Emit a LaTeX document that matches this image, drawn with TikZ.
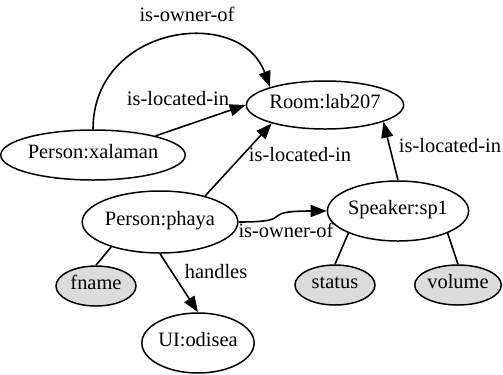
\documentclass[tikz,border=0pt]{standalone}
\usepackage{fontspec}
\setmainfont{Liberation Serif}
\newfontfamily\graphfont{Liberation Serif}
\usetikzlibrary{shapes.geometric,arrows.meta}
\definecolor{attrgray}{RGB}{220,220,220}
\tikzset{
  ent/.style={draw, ellipse, line width=1.5pt, inner sep=0pt, fill=white,
    font=\graphfont\fontsize{20.5}{24}\selectfont, text height=0.66em, text depth=0pt},
  attr/.style={ent, fill=attrgray},
  lbl/.style={font=\graphfont\fontsize{20.5}{24}\selectfont, inner sep=0pt, text height=0.68em, text depth=0pt},
  rel/.style={line width=1.6pt, -{Triangle[length=16pt,width=12pt]}},
  link/.style={line width=1.6pt}
}
\begin{document}
\begin{tikzpicture}[x=1bp,y=-1bp]
\useasboundingbox (0,0) rectangle (503,374);
% nodes
\node[ent, minimum width=156bp, minimum height=48bp] (room) at (325,105) {Room:lab207};
\node[ent, minimum width=160bp, minimum height=50bp] (xal) at (93,155) {Person:xalaman};
\node[ent, minimum width=132bp, minimum height=62bp] (phaya) at (160,222) {Person:phaya};
\node[attr, minimum width=80bp, minimum height=40bp] (fname) at (96,286) {fname};
\node[ent, minimum width=100bp, minimum height=60bp] (ui) at (198,343) {UI:odisea};
\node[ent, minimum width=130bp, minimum height=60bp] (speaker) at (398,211) {Speaker:sp1};
\node[attr, minimum width=80bp, minimum height=40bp] (status) at (335,285) {status};
\node[attr, minimum width=80bp, minimum height=40bp] (volume) at (458,285) {volume};
% edges
\draw[rel] (xal.north) .. controls (93,25) and (240,5) .. (room.162);
\draw[rel] (xal.17) -- (room.180);
\draw[rel] (phaya.30) -- (room.199);
\draw[rel] (speaker.north) -- (room.344);
\draw[rel] (phaya.east) .. controls (300,222) and (255,211) .. (speaker.west);
\draw[rel] (phaya.south) -- (ui.north);
\draw[link] (phaya.207) -- (fname.north);
\draw[link] (speaker.204) -- (status.north);
\draw[link] (speaker.336) -- (volume.north);
% labels
\node[lbl] (l1) at (187,18) {is-owner-of};
\node[lbl] (l2) at (178,102) {is-located-in};
\node[lbl] (l3) at (300,158) {is-located-in};
\node[lbl] (l4) at (450,149) {is-located-in};
\node[lbl] (l5) at (286,234) {is-owner-of};
\node[lbl] (l6) at (216,275) {handles};
\end{tikzpicture}
\end{document}
